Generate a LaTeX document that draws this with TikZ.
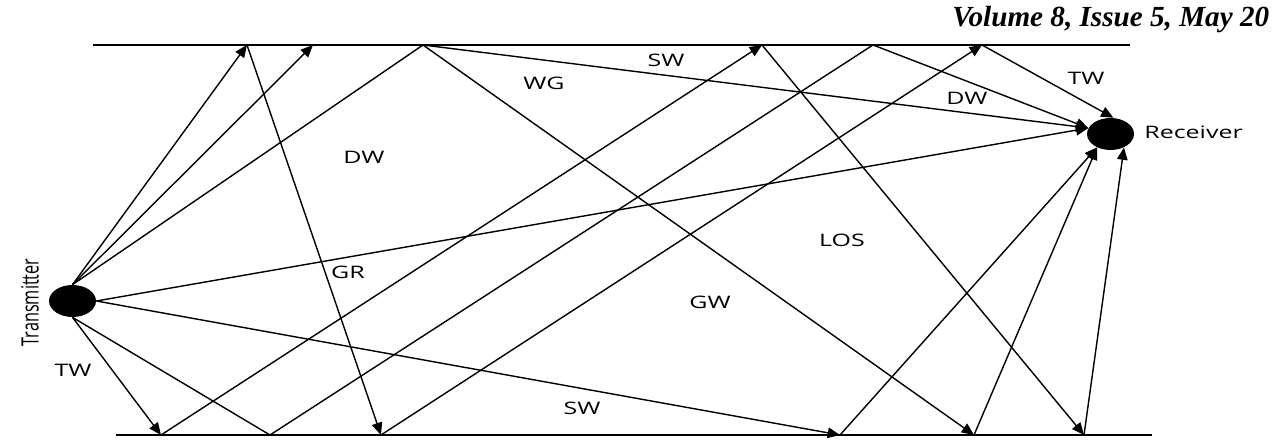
\documentclass[tikz,border=0pt]{standalone}
\usepackage{fontspec}
\usetikzlibrary{arrows.meta, shapes.geometric}
\newfontfamily\labfont[FakeStretch=1.45]{Open Sans}
\newfontfamily\txfont[FakeStretch=0.68]{Open Sans}
\newfontfamily\headfont{Liberation Serif}

\begin{document}
\begin{tikzpicture}[
    wall/.style={line width=1.5pt},
    ray/.style={line width=0.8pt},
    aray/.style={ray, -{Triangle[length=7pt, width=6pt]}},
    station/.style={ellipse, fill=black, inner sep=0pt, minimum width=0.94cm, minimum height=0.64cm},
    lab/.style={font=\labfont\fontsize{9.8}{11}\selectfont, inner sep=0pt}
]
\useasboundingbox (0,0) rectangle (25.52,8.84);

\node[font=\headfont\bfseries\itshape\fontsize{16.6}{18}\selectfont, anchor=base west, inner sep=0pt] (hdr) at (19.04,8.30) {Volume 8, Issue 5, May 20};

% ============ WALLS ============
\coordinate (topL) at (1.86,7.94);
\coordinate (topR) at (22.60,7.94);
\coordinate (botL) at (2.32,0.14);
\coordinate (botR) at (23.04,0.14);
\draw[wall] (topL) -- (topR);
\draw[wall] (botL) -- (botR);

% hit points on the upper wall
\coordinate (TP1) at (4.94,7.94);
\coordinate (TP2) at (6.26,7.94);
\coordinate (TP3) at (8.46,7.94);
\coordinate (TP4) at (15.24,7.94);
\coordinate (TP5) at (17.46,7.94);
\coordinate (TP6) at (19.64,7.94);
% hit points on the lower wall
\coordinate (BT1) at (3.22,0.14);
\coordinate (BT2) at (5.40,0.14);
\coordinate (BT3) at (7.62,0.14);
\coordinate (BT4) at (16.80,0.14);
\coordinate (BT5) at (19.48,0.14);
\coordinate (BT6) at (21.68,0.14);

% ============ STATIONS ============
\node[station] (tx) at (1.45,2.82) {};
\node[station] (rx) at (22.21,6.16) {};
\node[font=\txfont\fontsize{13.6}{15}\selectfont, rotate=90, inner sep=0pt] (txlab) at (0.60,2.79) {Transmitter};
\node[lab, anchor=west] (rxlab) at (22.88,6.20) {Receiver};

% ============ RAYS ============
% leaving the transmitter
\draw[aray] (tx.north) -- (TP1); \draw[aray] (tx.north) -- (TP2);
\draw[ray] (tx.north) -- (TP3);
\draw[aray] (tx.east) -- (rx.165); \draw[aray] (tx.east) -- (BT4);
\draw[aray] (tx.south) -- (BT1); \draw[ray] (tx.south) -- (BT2);

% reflected between the walls
\draw[aray] (TP1) -- (BT3); \draw[aray] (BT1) -- (TP4);
\draw[ray] (BT2) -- (TP5); \draw[aray] (BT3) -- (TP6);
\draw[aray] (TP3) -- (BT5); \draw[aray] (TP4) -- (BT6);

% arriving at the receiver
\draw[aray] (TP3) -- (rx.165); \draw[aray] (TP5) -- (rx.165);
\draw[aray] (TP6) -- (rx.80);
\draw[aray] (BT4) -- (rx.225); \draw[aray] (BT5) -- (rx.225);
\draw[aray] (BT6) -- (rx.315);

% ============ LABELS ============
\node[lab] (dw1) at (7.28,5.70) {DW};
\node[lab] (wg) at (10.88,7.18) {WG};
\node[lab] (sw1) at (13.32,7.64) {SW};
\node[lab] (tw1) at (21.72,7.28) {TW};
\node[lab] (dw2) at (19.34,6.88) {DW};
\node[lab] (los) at (16.84,4.04) {LOS};
\node[lab] (gr) at (6.96,3.40) {GR};
\node[lab] (gw) at (14.20,2.80) {GW};
\node[lab] (tw2) at (1.46,1.44) {TW};
\node[lab] (sw2) at (11.64,0.68) {SW};

\end{tikzpicture}
\end{document}
